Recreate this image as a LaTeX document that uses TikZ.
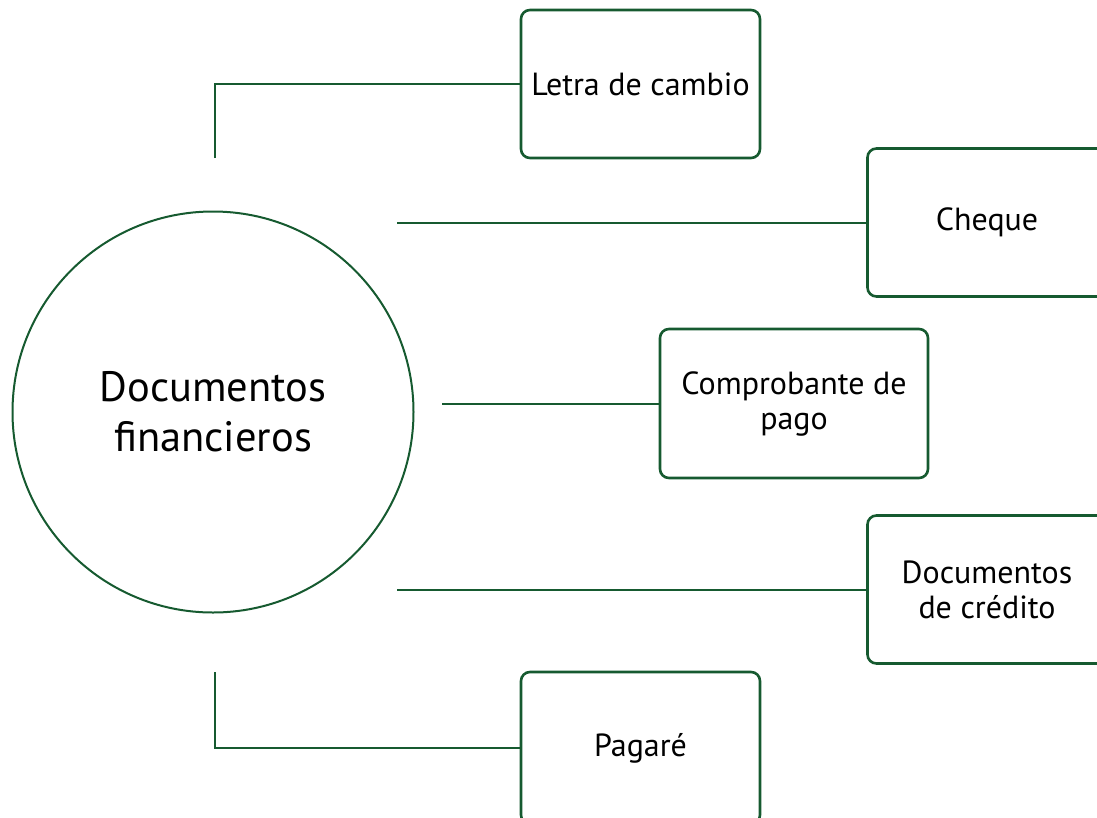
\documentclass[tikz,border=0pt]{standalone}
\usepackage{fontspec}
\setmainfont{PT Sans}
\definecolor{verde}{HTML}{165A30}
\tikzset{
  doc/.style={draw=verde, line width=2.6pt, rounded corners=9pt, minimum width=239pt, minimum height=148pt, align=center, font=\fontsize{32}{35}\selectfont},
  rama/.style={draw=verde, line width=2pt}
}

\begin{document}
\begin{tikzpicture}[x=1pt, y=-1pt]
\useasboundingbox (0,0) rectangle (1097,817);
\clip (0,0) rectangle (1097,817);
\node[circle, draw=verde, line width=2pt, minimum size=401pt, align=center, font=\fontsize{42.5}{50}\selectfont] (centro) at (213,412) {Documentos\\financieros};
\node[doc] (letra) at (640.5,84) {Letra de cambio};
\node[doc] (cheque) at (987,222.5) {Cheque};
\node[doc, minimum width=268pt, minimum height=149pt] (comprobante) at (794,403.5) {Comprobante de\\pago};
\node[doc] (credito) at (987,589.5) {Documentos\\de crédito};
\node[doc, minimum height=152pt] (pagare) at (640.5,748) {Pagaré};
\coordinate (a1) at (215,158);
\coordinate (a2) at (397,222.5);
\coordinate (a3) at (442,403.5);
\coordinate (a4) at (397,589.5);
\coordinate (a5) at (215,672);
\draw[rama] (a1) |- (letra.west);
\draw[rama] (a2) -- (cheque.west);
\draw[rama] (a3) -- (comprobante.west);
\draw[rama] (a4) -- (credito.west);
\draw[rama] (a5) |- (pagare.west);
\end{tikzpicture}
\end{document}
